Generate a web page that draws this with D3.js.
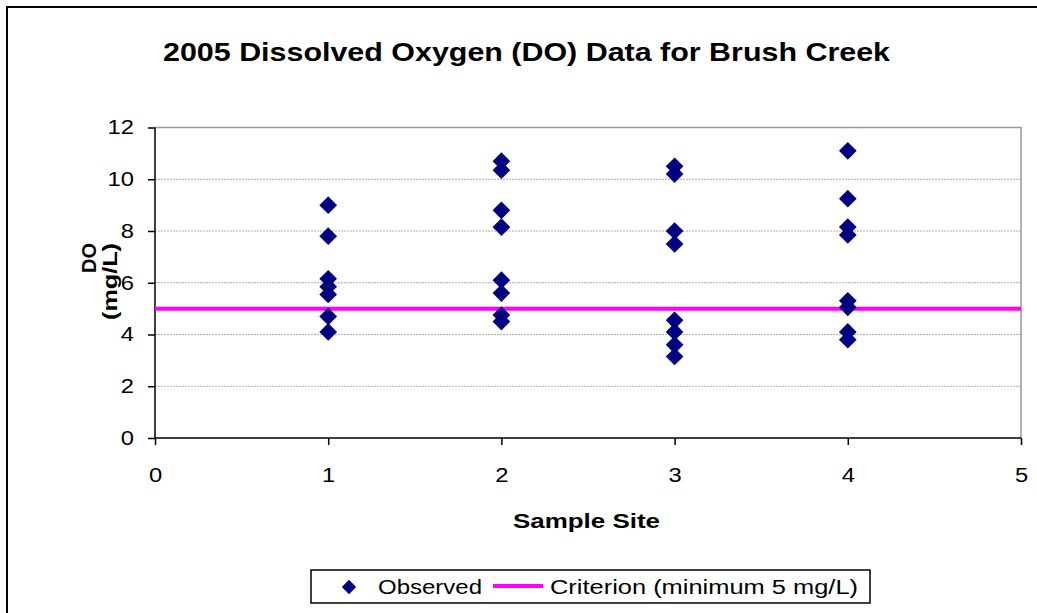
<!DOCTYPE html>
<html><head><meta charset="utf-8">
<script src="https://cdn.jsdelivr.net/npm/d3@7/dist/d3.min.js"></script>
<style>body{margin:0;background:#fff;} svg{display:block;font-family:"Liberation Sans",Arial,sans-serif;}</style>
</head><body>
<script>
const sites = [1, 2, 3, 4];
const site1 = [9.0, 7.8, 6.15, 5.85, 5.55, 4.7, 4.1];
const site2 = [10.7, 10.35, 8.8, 8.15, 6.1, 5.6, 4.75, 4.5];
const site3 = [10.5, 10.2, 8.0, 7.5, 4.55, 4.1, 3.6, 3.15];
const site4 = [11.1, 9.25, 8.15, 7.85, 5.3, 5.05, 4.1, 3.8];
const criterion = 5;
const xTicks = [0, 1, 2, 3, 4, 5];
const yTicks = [0, 2, 4, 6, 8, 10, 12];
const title = "2005 Dissolved Oxygen (DO) Data for Brush Creek";

const W = 1037, H = 613;
const svg = d3.select("body").append("svg").attr("width", W).attr("height", H);
svg.append("rect").attr("x", 0).attr("y", 0).attr("width", W).attr("height", H).attr("fill", "#fff");
svg.append("rect").attr("x", 7).attr("y", 7).attr("width", W + 20).attr("height", H + 20)
  .attr("fill", "none").attr("stroke", "#000").attr("stroke-width", 2);

const x = d3.scaleLinear().domain([0, 5]).range([155, 1021]);
const y = d3.scaleLinear().domain([0, 12]).range([438, 127.5]);

svg.append("g").selectAll("line").data(yTicks.filter(d => d > 0 && d < 12)).join("line")
  .attr("x1", x(0)).attr("x2", x(5)).attr("y1", d => y(d)).attr("y2", d => y(d))
  .attr("stroke", "#aaa").attr("stroke-width", 1).attr("stroke-dasharray", "2,1");
svg.append("path").attr("d", `M${x(0)},${y(12)}H${x(5)}V${y(0)}`)
  .attr("fill", "none").attr("stroke", "#999").attr("stroke-width", 1.5);

const yAxis = svg.append("g").attr("transform", `translate(${x(0)},0)`)
  .call(d3.axisLeft(y).tickValues(yTicks).tickSize(7).tickPadding(14).tickFormat(d3.format("d")));
const xAxis = svg.append("g").attr("transform", `translate(0,${y(0)})`)
  .call(d3.axisBottom(x).tickValues(xTicks).tickSize(7).tickPadding(23).tickFormat(d3.format("d")));
[yAxis, xAxis].forEach(g => {
  g.attr("font-size", 20);
  g.select(".domain").attr("stroke", "#000").attr("stroke-width", 1.5);
  g.selectAll(".tick line").attr("stroke", "#000").attr("stroke-width", 1.5);
  g.selectAll("text").attr("font-size", 20).attr("fill", "#000")
    .attr("font-family", "'Liberation Sans',Arial,sans-serif")
    .attr("textLength", function() { return 13.2 * this.textContent.length; })
    .attr("lengthAdjust", "spacingAndGlyphs");
});
yAxis.selectAll(".domain").attr("d", `M0,${y(0)}V${y(12)}`);
xAxis.selectAll(".domain").attr("d", `M${x(0)},0H${x(5)}`);

svg.append("line").attr("x1", x(0)).attr("x2", x(5)).attr("y1", y(criterion)).attr("y2", y(criterion))
  .attr("stroke", "#ff00ff").attr("stroke-width", 4);

const pts = [];
[site1, site2, site3, site4].forEach((arr, i) => arr.forEach(v => pts.push({s: sites[i], v})));
const diamond = d3.symbol().type(d3.symbolDiamond2).size(200);
svg.append("g").selectAll("path").data(pts).join("path")
  .attr("d", diamond).attr("transform", d => `translate(${x(d.s)},${y(d.v)})`)
  .attr("fill", "#000080");

svg.append("text").attr("x", 526.5).attr("y", 61).attr("text-anchor", "middle")
  .attr("font-size", 25).attr("font-weight", "bold")
  .attr("textLength", 727).attr("lengthAdjust", "spacingAndGlyphs").text(title);
svg.append("text").attr("x", 586.5).attr("y", 528).attr("text-anchor", "middle")
  .attr("font-size", 20).attr("font-weight", "bold")
  .attr("textLength", 147).attr("lengthAdjust", "spacingAndGlyphs").text("Sample Site");
const yt = svg.append("text").attr("transform", "translate(0,282) rotate(-90)")
  .attr("text-anchor", "end").attr("font-size", 20).attr("font-weight", "bold");
yt.append("tspan").attr("x", 39).attr("y", 96).attr("textLength", 30).attr("lengthAdjust", "spacingAndGlyphs").text("DO");
yt.append("tspan").attr("x", 39).attr("y", 117).attr("textLength", 77).attr("lengthAdjust", "spacingAndGlyphs").text("(mg/L)");

const lg = svg.append("g");
lg.append("rect").attr("x", 311).attr("y", 570).attr("width", 559).attr("height", 33)
  .attr("fill", "#fff").attr("stroke", "#000").attr("stroke-width", 1.5);
lg.append("path").attr("d", d3.symbol().type(d3.symbolDiamond2).size(130))
  .attr("transform", "translate(349,587)").attr("fill", "#000080");
lg.append("text").attr("x", 378).attr("y", 594).attr("font-size", 20)
  .attr("textLength", 104).attr("lengthAdjust", "spacingAndGlyphs").text("Observed");
lg.append("line").attr("x1", 493).attr("x2", 543).attr("y1", 586).attr("y2", 586)
  .attr("stroke", "#ff00ff").attr("stroke-width", 4);
lg.append("text").attr("x", 550).attr("y", 594).attr("font-size", 20)
  .attr("textLength", 308).attr("lengthAdjust", "spacingAndGlyphs").text("Criterion (minimum 5 mg/L)");
</script>
</body></html>
